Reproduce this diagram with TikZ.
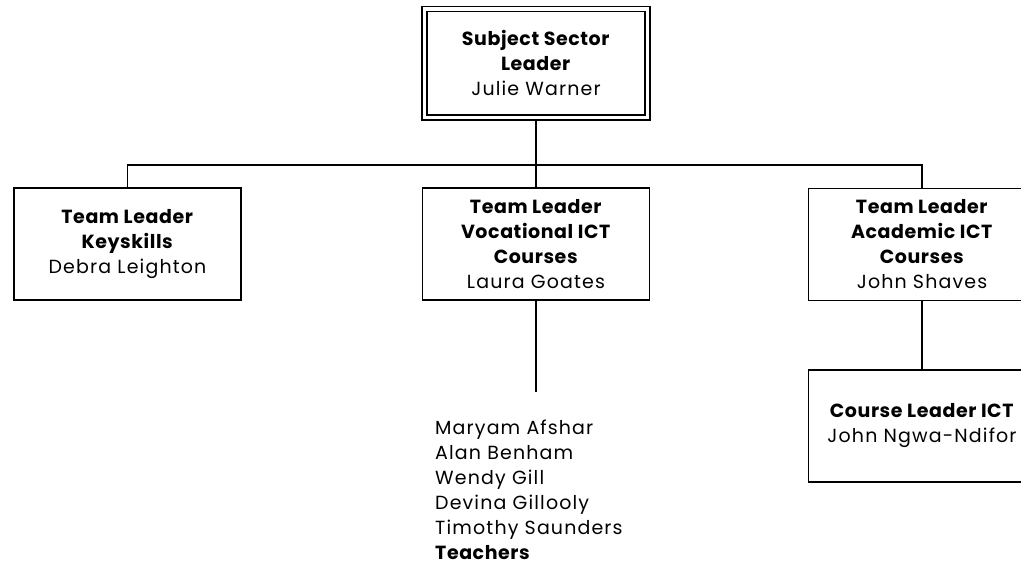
\documentclass[tikz,border=0pt]{standalone}
\usepackage{fontspec}
\setmainfont{Poppins}[LetterSpace=6,BoldFeatures={LetterSpace=3}]
\usepackage{tikz}
\usetikzlibrary{positioning}
\newcommand{\orgfont}{\fontsize{19}{25}\selectfont}

\begin{document}
\begin{tikzpicture}[x=1pt,y=-1pt,
    orgbox/.style={draw,line width=1.5pt,minimum width=227pt,minimum height=112pt,
        align=center,inner sep=0pt,font=\orgfont},
    headbox/.style={orgbox,line width=1.3pt,double,double distance=3.5pt,
        minimum width=223pt,minimum height=108.5pt},
    link/.style={line width=1.5pt}]
    \path[use as bounding box,clip] (0,0) rectangle (1021,567);

    % Sector leader and team leaders
    \node[headbox] (sector) at (536,63.25) {\textbf{Subject Sector}\\\textbf{Leader}\\Julie Warner};
    \node[orgbox] (keys) at (127.5,244) {\textbf{Team Leader}\\\textbf{Keyskills}\\Debra Leighton};
    \node[orgbox] (voc) at (536,244) {\textbf{Team Leader}\\\textbf{Vocational ICT}\\\textbf{Courses}\\Laura Goates};
    \node[orgbox] (acad) at (922,244.5) {\textbf{Team Leader}\\\textbf{Academic ICT}\\\textbf{Courses}\\John Shaves};
    \node[orgbox] (course) at (922,426) {\textbf{Course Leader ICT}\\John Ngwa-Ndifor};

    % Teachers under vocational courses
    \node[anchor=north west,align=left,inner sep=0pt,font=\orgfont] (teachers) at (435,420)
        {Maryam Afshar\\Alan Benham\\Wendy Gill\\Devina Gillooly\\Timothy Saunders\\\textbf{Teachers}};

    % Connectors
    \coordinate (bus) at (536,165);
    \coordinate (vocend) at (536,392);
    \draw[link] ([yshift=-2.5pt]sector.south) -- (bus);
    \draw[link] (keys.north) |- (bus) -| (acad.north);
    \draw[link] (bus) -- (voc.north);
    \draw[link] (voc.south) -- (vocend);
    \draw[link] (acad.south) -- (course.north);
\end{tikzpicture}
\end{document}
